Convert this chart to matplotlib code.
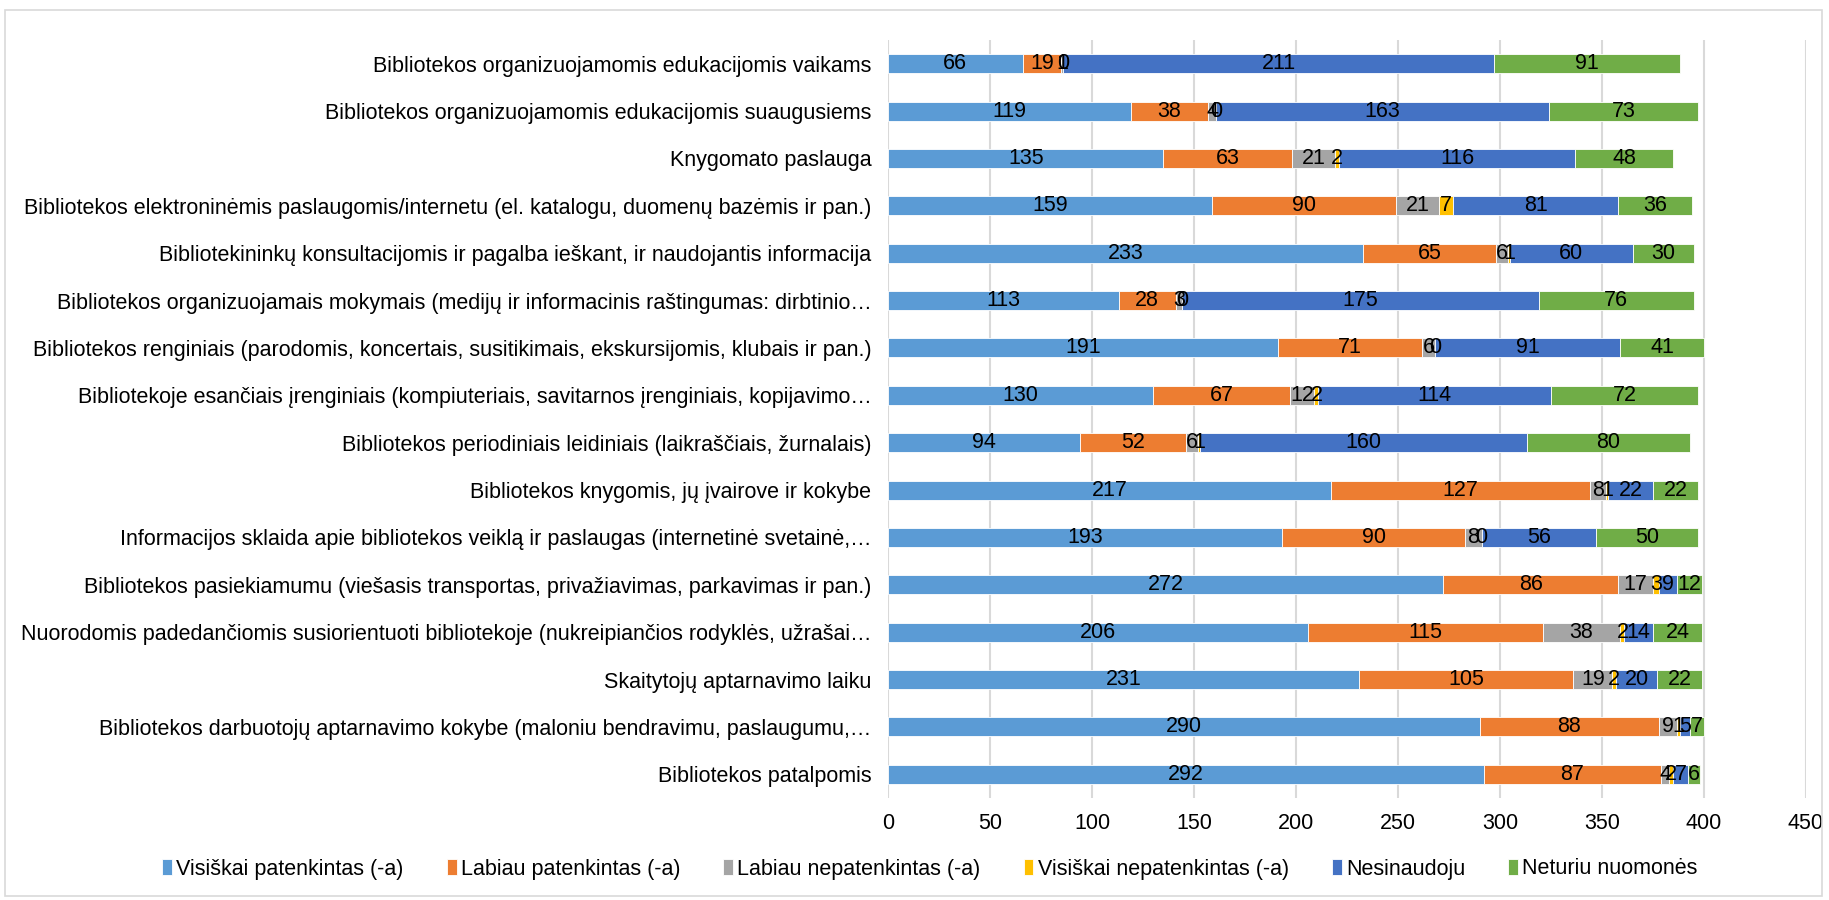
import numpy as np
import matplotlib
matplotlib.use("Agg")
from matplotlib import pyplot as plt
from matplotlib.patches import Rectangle

plt.rcParams['font.family'] = ['Liberation Sans', 'DejaVu Sans']

categories = [
    "Bibliotekos organizuojamomis edukacijomis vaikams",
    "Bibliotekos organizuojamomis edukacijomis suaugusiems",
    "Knygomato paslauga",
    "Bibliotekos elektroninėmis paslaugomis/internetu (el. katalogu, duomenų bazėmis ir pan.)",
    "Bibliotekininkų konsultacijomis ir pagalba ieškant, ir naudojantis informacija",
    "Bibliotekos organizuojamais mokymais (medijų ir informacinis raštingumas: dirbtinio…",
    "Bibliotekos renginiais (parodomis, koncertais, susitikimais, ekskursijomis, klubais ir pan.)",
    "Bibliotekoje esančiais įrenginiais (kompiuteriais, savitarnos įrenginiais, kopijavimo…",
    "Bibliotekos periodiniais leidiniais (laikraščiais, žurnalais)",
    "Bibliotekos knygomis, jų įvairove ir kokybe",
    "Informacijos sklaida apie bibliotekos veiklą ir paslaugas (internetinė svetainė,…",
    "Bibliotekos pasiekiamumu (viešasis transportas, privažiavimas, parkavimas ir pan.)",
    "Nuorodomis padedančiomis susiorientuoti bibliotekoje (nukreipiančios rodyklės, užrašai…",
    "Skaitytojų aptarnavimo laiku",
    "Bibliotekos darbuotojų aptarnavimo kokybe (maloniu bendravimu, paslaugumu,…",
    "Bibliotekos patalpomis",
]

series_names = [
    "Visiškai patenkintas (-a)",
    "Labiau patenkintas (-a)",
    "Labiau nepatenkintas (-a)",
    "Visiškai nepatenkintas (-a)",
    "Nesinaudoju",
    "Neturiu nuomonės",
]

visiskai_patenkintas = [66, 119, 135, 159, 233, 113, 191, 130, 94, 217, 193, 272, 206, 231, 290, 292]
labiau_patenkintas = [19, 38, 63, 90, 65, 28, 71, 67, 52, 127, 90, 86, 115, 105, 88, 87]
labiau_nepatenkintas = [1, 4, 21, 21, 6, 3, 6, 12, 6, 8, 8, 17, 38, 19, 9, 4]
visiskai_nepatenkintas = [0, 0, 2, 7, 1, 0, 0, 2, 1, 1, 0, 3, 2, 2, 1, 2]
nesinaudoju = [211, 163, 116, 81, 60, 175, 91, 114, 160, 22, 56, 9, 14, 20, 5, 7]
neturiu_nuomones = [91, 73, 48, 36, 30, 76, 41, 72, 80, 22, 50, 12, 24, 22, 7, 6]

colors = ["#5B9BD5", "#ED7D31", "#A5A5A5", "#FFC000", "#4472C4", "#70AD47"]

values = np.array([visiskai_patenkintas, labiau_patenkintas, labiau_nepatenkintas,
                   visiskai_nepatenkintas, nesinaudoju, neturiu_nuomones])

fs = 15.5

fig = plt.figure(figsize=(18.29, 9.0), dpi=100)
ax = fig.add_axes([888 / 1829, 1 - 798 / 900, (1806 - 888) / 1829, (798 - 40) / 900])

y = np.arange(len(categories))
left = np.zeros(len(categories))
for name, vals, c in zip(series_names, values, colors):
    bars = ax.barh(y, vals, left=left, height=0.4, color=c, label=name,
                   edgecolor='white', linewidth=0.6, zorder=2)
    ax.bar_label(bars, labels=[str(v) for v in vals], label_type='center',
                 fontsize=fs, color='black')
    left += vals

ax.set_ylim(len(categories) - 0.5, -0.5)
ax.set_xlim(0, 450)
ax.set_xticks(np.arange(0, 451, 50))
ax.set_yticks(y)
ax.set_yticklabels(categories)
ax.tick_params(axis='y', length=0, pad=12, labelsize=fs, colors='black')
ax.tick_params(axis='x', length=0, pad=11, labelsize=fs, colors='black')
ax.grid(axis='x', color='#d9d9d9', linewidth=1.5, zorder=0)
ax.set_axisbelow(True)
for s in ax.spines.values():
    s.set_visible(False)

fig.legend(loc='center', bbox_to_anchor=(930 / 1829, 1 - 869 / 900), ncol=6,
           frameon=False, fontsize=fs, handlelength=0.45, handleheight=0.7,
           handletextpad=0.2, columnspacing=2.0)

fig.patches.append(Rectangle((0.003, 0.004), 0.993, 0.985, transform=fig.transFigure,
                             fill=False, edgecolor='#d9d9d9', linewidth=1.2))

fig.savefig("out.png", dpi=100)
